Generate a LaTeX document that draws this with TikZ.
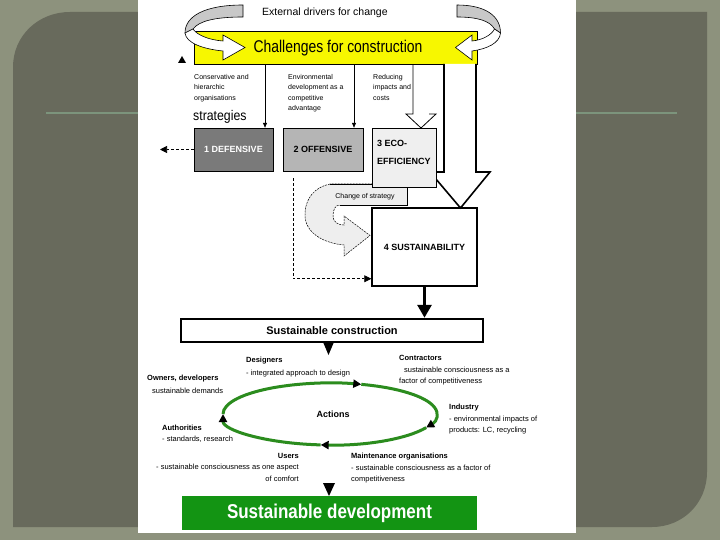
\documentclass[tikz,border=0pt]{standalone}
\usepackage{fontspec}
\setmainfont{Liberation Sans}
\usetikzlibrary{arrows.meta,calc}
\definecolor{bgout}{HTML}{8D927D}
\definecolor{panel}{HTML}{686A5C}
\definecolor{slideline}{HTML}{7C947C}
\definecolor{chalyellow}{HTML}{F7F700}
\definecolor{defgray}{HTML}{7A7A7A}
\definecolor{offgray}{HTML}{B5B5B5}
\definecolor{ecogray}{HTML}{EFEFEF}
\definecolor{ribbongray}{HTML}{C8C8C8}
\definecolor{chgfill}{HTML}{EEEEEE}
\definecolor{ellgreen}{HTML}{2B8C1E}
\definecolor{devgreen}{HTML}{139413}
\newcommand{\ribbonshape}{%
  \filldraw[fill=ribbongray, line width=0.6] (0,5) .. controls (38,5) and (58,16) .. (58,33) -- (50,29) .. controls (44,21) and (28,17) .. (0,17) -- cycle;
  \filldraw[fill=white, line width=0.6] (58,33) .. controls (57,43) and (40,49) .. (20,51) -- (20,60) -- (-2,47.5) -- (20,35) -- (20,41) .. controls (34,40) and (46,35) .. (50,29) -- cycle;}
\begin{document}
\begin{tikzpicture}[x=1pt,y=-1pt,
  box/.style={draw, inner sep=0, font=\fontsize{9}{11}\selectfont\bfseries},
  lbl/.style={inner sep=0, align=left, anchor=north west, font=\fontsize{7}{10.3}\selectfont},
  act/.style={inner sep=0, align=left, anchor=north west, font=\fontsize{7.5}{11.5}\selectfont},
  smallarr/.style={line width=0.7, -{Triangle[length=5pt,width=4pt]}},
  dasharr/.style={line width=0.7, dash pattern=on 3pt off 2pt, -{Triangle[length=7pt,width=7pt]}},
  ellarc/.style={ellgreen, line width=3, -{Triangle[length=8pt,width=8pt,color=black]}}]
\useasboundingbox (0,0) rectangle (720,540);
% slide background
\fill[bgout] (0,0) rectangle (720,540);
\fill[panel] (13,527) -- (13,67) .. controls (13,36) and (38,12) .. (70,12) -- (707,12) -- (707,472) .. controls (707,503) and (683,527) .. (652,527) -- cycle;
\draw[slideline, line width=1.3] (46,113) -- (677,113);
\fill[white] (138,0) rectangle (576,533);

% top
\node[anchor=base west, inner sep=0, font=\fontsize{10.5}{12}\selectfont] (ext) at (262,16) {External drivers for change};
\node[draw, fill=chalyellow, minimum width=283, minimum height=33, inner sep=0] (chal) at (335.5,47.5) {};
\node[inner sep=0, xscale=0.82, transform shape, font=\fontsize{17}{19}\selectfont] (chalt) at (338,48) {Challenges for construction};
\begin{scope}[shift={(243,0)}, xscale=-1]\ribbonshape\end{scope}
\begin{scope}[shift={(457,0)}, xscale=0.75]\ribbonshape\end{scope}
\fill (178,63) -- (186,63) -- (182,56) -- cycle;

% column texts
\node[lbl] (tc1) at (194,74.3) {Conservative and\\hierarchic\\organisations};
\node[lbl] (tc2) at (288,74.3) {Environmental\\development as a\\competitive\\advantage};
\node[lbl] (tc3) at (373,74.3) {Reducing\\impacts and\\costs};
\node[lbl] (tc4) at (448,74.3) {New\\approach};
\node[inner sep=0, anchor=base west, xscale=0.88, transform shape, font=\fontsize{14}{16}\selectfont] (strat) at (193,121) {strategies};

% strategy boxes
\node[box, fill=defgray, text=white, minimum width=79, minimum height=43] (def) at (233.5,149.5) {1 DEFENSIVE};
\node[box, fill=offgray, minimum width=80, minimum height=43] (off) at (323,149.5) {2 OFFENSIVE};

\coordinate (x1) at (265,0);
\coordinate (x2) at (354,0);
\coordinate (x3) at (293,0);
\coordinate (x4) at (413,0);
\draw[smallarr] (x1 |- chal.south) -- (x1 |- def.north);
\draw[smallarr] (x2 |- chal.south) -- (x2 |- off.north);

% reducing hollow arrow
\draw[line width=0.8] (x4 |- chal.south) -- (413,114) -- (406,114) -- (421,128) -- (436,114) -- (429,114);
% new approach big arrow
\filldraw[fill=white, line width=1.6] (444,64) -- (444,172) -- (430,172) -- (460.5,208) -- (490,172) -- (476,172) -- (476,64);

% change of strategy
\filldraw[fill=chgfill, line width=0.5, dash pattern=on 2pt off 1pt] (330,184) .. controls (315,187) and (305,198) .. (305,215) .. controls (305,232) and (322,243) .. (344,245) -- (344,256) -- (370,235.5) -- (344,216) -- (344,225) .. controls (338,225) and (333,222) .. (333,216) .. controls (333,210) and (335,205) .. (340,205) -- (407,205) -- (407,184) -- cycle;
\node[fill=chgfill, minimum width=77, minimum height=21, inner sep=0] (chg) at (368.5,194.5) {};
\draw[line width=0.5] ($(chg.south west)+(10,0)$) -- (chg.south east) -- (chg.north east) -- (chg.north west);
\node[inner sep=0, font=\fontsize{7}{8}\selectfont] (chgt) at (365,197) {Change of strategy};

\node[box, fill=ecogray, minimum width=64, minimum height=59] (eco) at (404,157.5) {};
\node[inner sep=0, anchor=north west, align=left, font=\fontsize{9}{18}\selectfont\bfseries] (ecot) at (377,140) {3 ECO-\\EFFICIENCY};

\node[box, line width=1.5, minimum width=105, minimum height=78] (sust) at (424.5,247) {4 SUSTAINABILITY};

\draw[dasharr] (def.west) -- (160,149.5) coordinate (lend);
\draw[dasharr] ($(x3 |- off.south)+(0,7)$) |- ($(sust.south west)+(0,-8)$);

% sustainable construction
\node[draw, line width=2.5, minimum width=302, minimum height=23, inner sep=0, font=\fontsize{11}{13}\selectfont\bfseries] (constr) at (332,330.5) {Sustainable construction};
\draw[line width=3, -{Triangle[length=13pt,width=14pt]}] (sust.south) -- (sust.south |- constr.north);
\fill (323,342) -- (334,342) -- (328.5,355) -- cycle;

% actions cycle
\node[inner sep=0, font=\fontsize{9}{11}\selectfont\bfseries] (act) at (333,414) {Actions};
\coordinate (e0) at (223,414);
\draw[ellarc] (e0) arc[start angle=180, end angle=287, x radius=107, y radius=31] coordinate (e1);
\draw[ellarc] (e1) arc[start angle=287, end angle=386, x radius=107, y radius=31] coordinate (e2);
\draw[ellarc] (e2) arc[start angle=26, end angle=95, x radius=107, y radius=31] coordinate (e3);
\draw[ellarc] (e3) arc[start angle=95, end angle=180, x radius=107, y radius=31];

\node[act, font=\fontsize{7.5}{13}\selectfont] (des) at (246,357.1) {\textbf{Designers}\\- integrated approach to design};
\node[act] (con) at (399,355.1) {\textbf{Contractors}\\\hspace*{5pt}sustainable consciousness as a\\factor of competitiveness};
\node[act, font=\fontsize{7.5}{13}\selectfont] (own) at (147,375.1) {\textbf{Owners, developers}\\\hspace*{5pt}sustainable demands};
\node[act] (ind) at (449,404.1) {\textbf{Industry}\\- environmental impacts of\\products: LC, recycling};
\node[act, font=\fontsize{7.5}{11}\selectfont] (aut) at (162,425.1) {\textbf{Authorities}\\- standards, research};
\node[act, anchor=north east, align=right] (usr) at (299,453.1) {\textbf{Users}\\- sustainable consciousness as one aspect\\of comfort};
\node[act] (mnt) at (351,453.1) {\textbf{Maintenance organisations}\\- sustainable consciousness as a factor of\\competitiveness};

\fill (323,483) -- (335,483) -- (329,496) -- cycle;
\node[fill=devgreen, minimum width=295, minimum height=34, inner sep=0] (dev) at (329.5,513) {};
\node[inner sep=0, xscale=0.85, transform shape, text=white, font=\fontsize{20}{22}\selectfont\bfseries] (devt) at (329.5,513) {Sustainable development};
\end{tikzpicture}
\end{document}
